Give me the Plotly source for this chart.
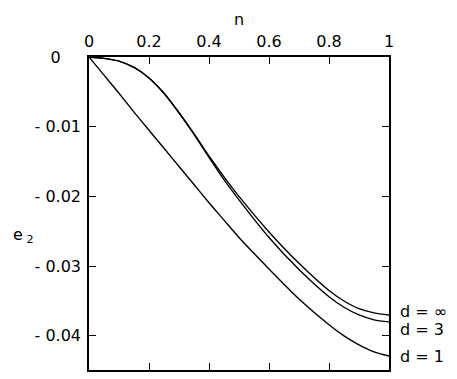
import plotly.graph_objects as go

# curves e2(n)
n_vals = [0, 0.05, 0.1, 0.15, 0.2, 0.25, 0.3, 0.35, 0.4, 0.45, 0.5, 0.6, 0.7, 0.8, 0.85, 0.9, 0.95, 1.0]
e2_inf = [0, -0.0002, -0.0006, -0.0015, -0.0030, -0.0052, -0.0080, -0.0110, -0.0142, -0.0172,
          -0.0200, -0.0251, -0.0296, -0.0335, -0.0350, -0.0361, -0.0367, -0.0370]
e2_d3 = [0, -0.0002, -0.0006, -0.0015, -0.0030, -0.0052, -0.0080, -0.0111, -0.0144, -0.0176,
         -0.0205, -0.0259, -0.0305, -0.0344, -0.0359, -0.0370, -0.0377, -0.0380]
e2_d1 = [0, -0.0026, -0.0052, -0.0079, -0.0105, -0.0131, -0.0157, -0.0183, -0.0209, -0.0234,
         -0.0259, -0.0304, -0.0347, -0.0384, -0.0400, -0.0413, -0.0423, -0.0429]

curve_names = ["d = \u221e", "d = 3", "d = 1"]
label_shift = [3, -8, 0]

x_ticks = [0, 0.2, 0.4, 0.6, 0.8, 1]
x_ticktext = ["0", "0.2", "0.4", "0.6", "0.8", "1"]
y_ticks = [0, -0.01, -0.02, -0.03, -0.04]
y_ticktext = ["0&nbsp;&nbsp;&nbsp;&nbsp;", "- 0.01", "- 0.02", "- 0.03", "- 0.04"]

FONT = "DejaVu Sans"

fig = go.Figure()
for ys, name, shift in zip([e2_inf, e2_d3, e2_d1], curve_names, label_shift):
    fig.add_trace(go.Scatter(x=n_vals, y=ys, mode="lines",
                             line=dict(color="black", width=1.4, shape="spline", smoothing=0.8),
                             name=name, showlegend=False, hoverinfo="skip"))
    fig.add_annotation(x=1, y=ys[-1], xref="x", yref="y", text=name, showarrow=False,
                       xanchor="left", xshift=9, yshift=shift,
                       font=dict(family=FONT, size=16, color="black"))

# axis titles as free text (y label sits left of the tick labels, n above the top ticks)
fig.add_annotation(x=-0.26, y=0.43, xref="paper", yref="paper", showarrow=False,
                   xanchor="left", text="e<sub> 2</sub>",
                   font=dict(family=FONT, size=16, color="black"))
fig.add_annotation(x=0.5, y=1, xref="paper", yref="paper", showarrow=False,
                   yanchor="bottom", yshift=26, text="n",
                   font=dict(family=FONT, size=16, color="black"))

# page body has an 8px margin, so the figure is a bit smaller than the window
fig.update_layout(
    width=449, height=371,
    margin=dict(l=81, r=68, t=49, b=7),
    paper_bgcolor="white", plot_bgcolor="white",
    font=dict(family=FONT, size=16, color="black"),
    xaxis=dict(range=[0, 1], side="top", tickvals=x_ticks, ticktext=x_ticktext,
               ticks="inside", ticklen=7, tickwidth=1.2, tickcolor="black",
               showline=True, linecolor="black", linewidth=1.5, mirror="ticks",
               showgrid=False, zeroline=False, ticklabelstandoff=2),
    yaxis=dict(range=[-0.0449, 0], tickvals=y_ticks, ticktext=y_ticktext,
               ticks="inside", ticklen=7, tickwidth=1.2, tickcolor="black",
               showline=True, linecolor="black", linewidth=1.5, mirror="ticks",
               showgrid=False, zeroline=False, ticklabelstandoff=3),
)

fig.write_html("out.html")
